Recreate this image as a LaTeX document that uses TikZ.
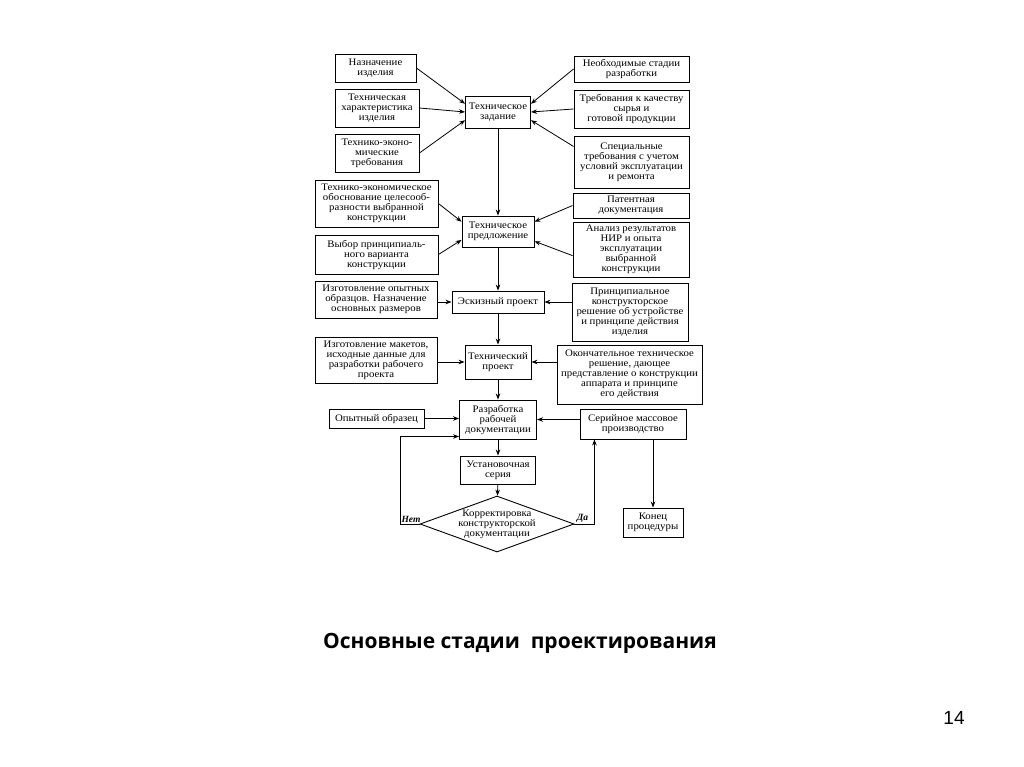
\documentclass[tikz,border=0pt]{standalone}
\usepackage{fontspec}
\setmainfont{Liberation Serif}
\newfontfamily\boxfont[FakeStretch=1.08]{Liberation Serif}
\newfontfamily\capfont{Open Sans}
\newfontfamily\numfont{Liberation Sans}
\usetikzlibrary{shapes.geometric,arrows.meta}

\begin{document}
\begin{tikzpicture}[x=1pt, y=-1pt,
  stagebox/.style = {draw, line width=0.9pt, align=center,
    inner xsep=1pt, inner ysep=0pt, font=\boxfont\fontsize{10}{10}\selectfont},
  arr/.style = {line width=0.8pt, -{Stealth[length=6pt,width=4.5pt]}},
  yesno/.style = {font=\fontsize{9.5}{9}\selectfont\bfseries\itshape, inner sep=1pt}]
  \fill[white] (0,0) rectangle (1024,767);
  \useasboundingbox (0,0) rectangle (1024,767);

  \node[stagebox, minimum width=81pt, minimum height=28pt] (nazn) at (375.5,68) {Назначение\\изделия};
  \node[stagebox, minimum width=84pt, minimum height=38pt] (techchar) at (377,108) {Техническая\\характеристика\\изделия};
  \node[stagebox, minimum width=84pt, minimum height=38pt] (tecon) at (377,153) {Технико-эконо-\\мические\\требования};
  \node[stagebox, minimum width=65pt, minimum height=32pt] (tz) at (498,112) {Техническое\\задание};
  \node[stagebox, minimum width=115pt, minimum height=26pt] (stages) at (631.5,69) {Необходимые стадии\\разработки};
  \node[stagebox, minimum width=115pt, minimum height=38pt] (quality) at (631.5,109) {Требования к качеству\\сырья и\\готовой продукции};
  \node[stagebox, minimum width=115pt, minimum height=52pt] (special) at (631.5,162) {Специальные\\требования с учетом\\условий эксплуатации\\и ремонта};

  \node[stagebox, minimum width=123pt, minimum height=47pt] (feas) at (376.5,203.5) {Технико-экономическое\\обоснование целесооб-\\разности выбранной\\конструкции};
  \node[stagebox, minimum width=123pt, minimum height=39pt] (choice) at (376.5,254.5) {Выбор принципиаль-\\ного варианта\\конструкции};
  \node[stagebox, minimum width=72pt, minimum height=31pt] (tp) at (498,231.5) {Техническое\\предложение};
  \node[stagebox, minimum width=116pt, minimum height=25pt] (patent) at (631,205.5) {Патентная\\документация};
  \node[stagebox, minimum width=116pt, minimum height=55pt] (research) at (631,249.5) {Анализ результатов\\НИР и опыта\\эксплуатации\\выбранной\\конструкции};

  \node[stagebox, minimum width=122pt, minimum height=37pt] (samples) at (376,299.5) {Изготовление опытных\\образцов. Назначение\\основных размеров};
  \node[stagebox, minimum width=92pt, minimum height=22pt] (sketch) at (498,302) {Эскизный проект};
  \node[stagebox, minimum width=116pt, minimum height=58pt] (principle) at (630,312) {Принципиальное\\конструкторское\\решение об устройстве\\и принципе действия\\изделия};

  \node[stagebox, minimum width=122pt, minimum height=46pt] (models) at (376,360) {Изготовление макетов,\\исходные данные для\\разработки рабочего\\проекта};
  \node[stagebox, minimum width=66pt, minimum height=34pt] (techproj) at (498,362) {Технический\\проект};
  \node[stagebox, minimum width=145pt, minimum height=59pt] (final) at (629.5,374.5) {Окончательное техническое\\решение, дающее\\представление о конструкции\\аппарата и принципе\\его действия};

  \node[stagebox, minimum width=95pt, minimum height=19pt] (prototype) at (376.5,418.5) {Опытный образец};
  \node[stagebox, minimum width=77pt, minimum height=39pt] (workdoc) at (498,419.5) {Разработка\\рабочей\\документации};
  \node[stagebox, minimum width=106pt, minimum height=30pt] (serial) at (633,424) {Серийное массовое\\производство};
  \node[stagebox, minimum width=75pt, minimum height=28pt] (pilot) at (498,470) {Установочная\\серия};
  \node[draw, line width=0.9pt, diamond, aspect=2.75, inner sep=-2pt, align=center,
    minimum width=154pt, minimum height=56pt,
    font=\boxfont\fontsize{10}{10}\selectfont] (check) at (497,524) {Корректировка\\конструкторской\\документации};
  \node[stagebox, minimum width=60pt, minimum height=29pt] (konec) at (653,522.5) {Конец\\процедуры};

  \draw[arr] (nazn.east) -- (tz.166);
  \draw[arr] (techchar.east) -- (tz.west);
  \draw[arr] (tecon.east) -- (tz.194);
  \draw[arr] (stages.west) -- (tz.14);
  \draw[arr] (quality.west) -- (tz.east);
  \draw[arr] (special.165) -- (tz.346);

  \draw[arr] (feas.east) -- (tp.165);
  \draw[arr] (choice.east) -- (tp.193);
  \draw[arr] (patent.west) -- (tp.15);
  \draw[arr] (research.186) -- (tp.345);

  \draw[arr] (sketch.west -| samples.east) -- (sketch.west);
  \draw[arr] (sketch.east -| principle.west) -- (sketch.east);
  \draw[arr] (techproj.west -| models.east) -- (techproj.west);
  \draw[arr] (techproj.east -| final.west) -- (techproj.east);
  \draw[arr] (prototype.east) -- (prototype.east -| workdoc.west);
  \draw[arr] (workdoc.east -| serial.west) -- (workdoc.east);

  \draw[arr] (tz) -- (tp);
  \draw[arr] (tp) -- (sketch);
  \draw[arr] (sketch) -- (techproj);
  \draw[arr] (techproj) -- (workdoc);
  \draw[arr] (workdoc) -- (pilot);
  \draw[arr] (pilot) -- (check);

  \draw[arr] (check.west) -- node[yesno, above, pos=0.45] {Нет} ++(-19,0) |- ([yshift=3pt]workdoc.south west);
  \draw[arr] (check.east) -- node[yesno, above, pos=0.4] {Да} ++(20,0) coordinate (da) -- (da |- serial.south);
  \draw[arr] (konec.north |- serial.south) -- (konec.north);

  \node[font=\capfont\fontsize{21}{21}\selectfont\bfseries] (title) at (520,643) {Основные стадии\ \ проектирования};
  \node[font=\numfont\fontsize{19}{19}\selectfont] (pagenum) at (954,718) {14};
\end{tikzpicture}
\end{document}
